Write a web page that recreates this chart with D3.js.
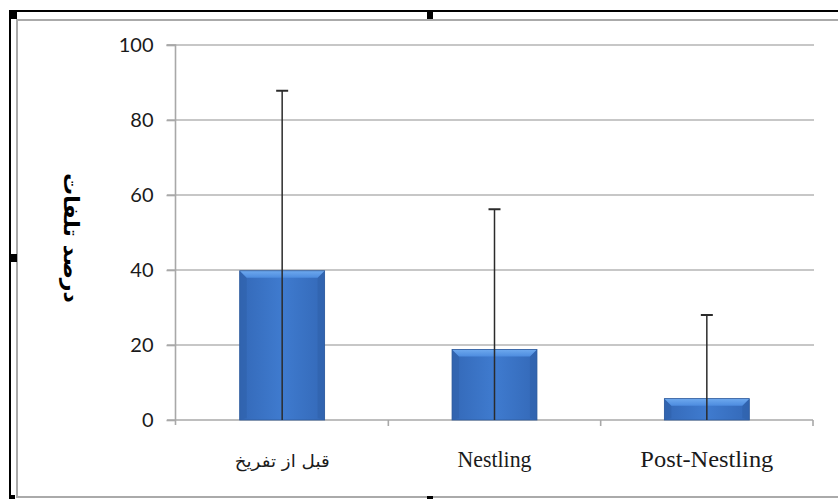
<!DOCTYPE html>
<html><head><meta charset="utf-8">
<script src="https://cdn.jsdelivr.net/npm/d3@7"></script>
<style>html,body{margin:0;padding:0;background:#fff;}svg{display:block;}</style>
</head><body>
<svg id="c" width="838" height="499"></svg>
<script>
const categories = ["قبل از تفریخ", "Nestling", "Post-Nestling"];
const means = [39.8, 18.8, 5.7];
const errors = [48.0, 37.4, 22.3];
const yTicks = [0, 20, 40, 60, 80, 100];
const yTitle = "درصد تلفات";

const svg = d3.select("#c");
const W = 838, H = 499;
const x0 = 176, x1 = 813, yTop = 45, yBot = 420;

// frame
svg.append("line").attr("x1",10).attr("x2",W).attr("y1",11).attr("y2",11).attr("stroke","#000").attr("stroke-width",2);
svg.append("line").attr("x1",10).attr("x2",10).attr("y1",10).attr("y2",H).attr("stroke","#000").attr("stroke-width",2);
svg.append("line").attr("x1",17).attr("x2",W).attr("y1",20).attr("y2",20).attr("stroke","#aaa").attr("stroke-width",2);
svg.append("line").attr("x1",17).attr("x2",17).attr("y1",19).attr("y2",498).attr("stroke","#aaa").attr("stroke-width",2);
svg.append("line").attr("x1",17).attr("x2",W).attr("y1",497).attr("y2",497).attr("stroke","#aaa").attr("stroke-width",2);
[[9,10,8,9],[427,10,6,9],[9,254,8,8],[9,495,6,4],[427,496,6,3]].forEach(h=>{
  svg.append("rect").attr("x",h[0]).attr("y",h[1]).attr("width",h[2]).attr("height",h[3]).attr("fill","#000");
});

const x = d3.scaleBand().domain(categories).range([x0, x1]).paddingInner(0.6).paddingOuter(0.3);
const y = d3.scaleLinear().domain([0, 100]).range([yBot, yTop]);

// gridlines
svg.append("g").selectAll("line").data(yTicks.filter(d=>d>0)).join("line")
  .attr("x1", x0-9).attr("x2", x1+1).attr("y1", d=>y(d)).attr("y2", d=>y(d))
  .attr("stroke", "#b5b5b5").attr("stroke-width", 1.6);

// y axis
const yAxis = svg.append("g").attr("transform", `translate(${x0-0.5},0)`)
  .call(d3.axisLeft(y).tickValues(yTicks).tickSize(9).tickPadding(13));
yAxis.select(".domain").attr("stroke","#a8a8a8").attr("stroke-width",1.6).attr("d", `M-9,${yTop}H0V${yBot+5}`);
yAxis.selectAll(".tick line").attr("stroke","#a8a8a8").attr("stroke-width",1.6);
yAxis.selectAll(".tick text").attr("font-family","Lato, 'Open Sans', sans-serif").attr("font-size",20).attr("fill","#1a1a1a");

// x axis
const xAxis = svg.append("g").attr("transform", `translate(0,${yBot})`)
  .call(d3.axisBottom(x).tickSize(0).tickPadding(0));
xAxis.select(".domain").attr("stroke","#a8a8a8").attr("stroke-width",1.6).attr("d", `M${x0-9},0H${x1}`);
xAxis.selectAll(".tick text").remove();
const bounds = categories.map((c,i)=> x0 + x.step()*(i+1));
svg.append("g").selectAll("line").data(bounds).join("line")
  .attr("x1", d=>d).attr("x2", d=>d).attr("y1", yBot).attr("y2", yBot+6)
  .attr("stroke","#a8a8a8").attr("stroke-width",1.6);

// category labels
const labelLen = [95, 74, 133];
svg.append("g").selectAll("text").data(categories).join("text")
  .attr("x", d=>x(d)+x.bandwidth()/2).attr("y", 467)
  .attr("text-anchor","middle")
  .attr("font-family", (d,i)=> i===0 ? "'DejaVu Sans', sans-serif" : "'Liberation Serif', 'Times New Roman', serif")
  .attr("font-size", (d,i)=> i===0 ? 17 : 23)
  .attr("textLength", (d,i)=>labelLen[i]).attr("lengthAdjust","spacingAndGlyphs")
  .attr("fill","#1a1a1a")
  .text(d=>d);

// y title
svg.append("text").attr("transform","translate(64,238) rotate(90)")
  .attr("text-anchor","middle").attr("font-family","'DejaVu Sans', sans-serif")
  .attr("font-weight","bold").attr("font-size",21)
  .attr("textLength",130).attr("lengthAdjust","spacingAndGlyphs")
  .attr("fill","#000").text(yTitle);

// gradients
const defs = svg.append("defs");
const g1 = defs.append("linearGradient").attr("id","body").attr("x1","0").attr("x2","1").attr("y1","0").attr("y2","0");
[[0,"#3469b8"],[0.5,"#3f7bcf"],[1,"#3469b8"]].forEach(s=>g1.append("stop").attr("offset",s[0]).attr("stop-color",s[1]));
const g2 = defs.append("linearGradient").attr("id","topb").attr("x1","0").attr("x2","0").attr("y1","0").attr("y2","1");
[[0,"#6ea9ee"],[1,"#4d8cdf"]].forEach(s=>g2.append("stop").attr("offset",s[0]).attr("stop-color",s[1]));

// bars
const b = 7;
const bars = svg.append("g").selectAll("g").data(categories).join("g");
bars.each(function(d,i){
  const g = d3.select(this);
  const L = x(d), R = x(d)+x.bandwidth(), T = y(means[i]), B = y(0);
  const bb = Math.min(b, (B-T)/2);
  g.append("rect").attr("x",L).attr("y",T).attr("width",R-L).attr("height",B-T).attr("fill","url(#body)");
  g.append("polygon").attr("points",`${L},${T} ${L+bb},${T+bb} ${L+bb},${B-2} ${L},${B}`).attr("fill","#3062ac").attr("opacity",0.7);
  g.append("polygon").attr("points",`${R},${T} ${R-bb},${T+bb} ${R-bb},${B-2} ${R},${B}`).attr("fill","#3062ac").attr("opacity",0.7);
  g.append("polygon").attr("points",`${L},${T} ${R},${T} ${R-bb},${T+bb} ${L+bb},${T+bb}`).attr("fill","url(#topb)");
  g.append("rect").attr("x",L).attr("y",T).attr("width",R-L).attr("height",B-T).attr("fill","none").attr("stroke","#2d5a9c").attr("stroke-width",0.8);
});

// error bars
const eb = svg.append("g");
categories.forEach((d,i)=>{
  const cx = x(d)+x.bandwidth()/2;
  const hi = means[i]+errors[i], lo = Math.max(0, means[i]-errors[i]);
  eb.append("line").attr("x1",cx).attr("x2",cx).attr("y1",y(hi)).attr("y2",y(lo)).attr("stroke","#2b2b2b").attr("stroke-width",1.5);
  eb.append("line").attr("x1",cx-6).attr("x2",cx+6).attr("y1",y(hi)).attr("y2",y(hi)).attr("stroke","#2b2b2b").attr("stroke-width",2);
});
</script>
</body></html>
